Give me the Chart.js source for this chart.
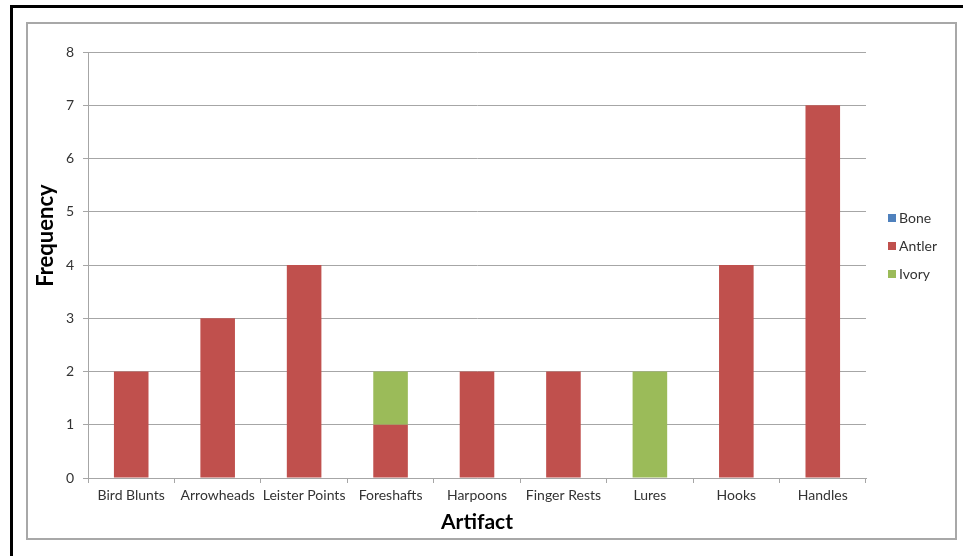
<!DOCTYPE html>
<html>
<head>
<meta charset="utf-8">
<script src="https://cdn.jsdelivr.net/npm/chart.js@4.4.1/dist/chart.umd.min.js"></script>
<style>
  html, body { margin: 0; padding: 0; background: #fff; overflow: hidden; }
  body { width: 963px; height: 556px; position: relative; }
  #outer { position: absolute; left: 10px; top: 5px; width: 1000px; height: 600px; border: 3px solid #000; box-sizing: border-box; }
  #inner { position: absolute; left: 26px; top: 22px; width: 931px; height: 518px; border: 2px solid #a8a8a8; box-sizing: border-box; background: #fff; }
  #wrap { position: absolute; left: 28px; top: 24px; width: 927px; height: 514px; }
</style>
</head>
<body>
<div id="outer"></div>
<div id="inner"></div>
<div id="wrap"><canvas id="chart"></canvas></div>
<script>
// Artifact counts by raw material
const categories = ['Bird Blunts', 'Arrowheads', 'Leister Points', 'Foreshafts', 'Harpoons', 'Finger Rests', 'Lures', 'Hooks', 'Handles'];
const bone   = [0, 0, 0, 0, 0, 0, 0, 0, 0];
const antler = [2, 3, 4, 1, 2, 2, 0, 4, 7];
const ivory  = [0, 0, 0, 1, 0, 0, 2, 0, 0];
const yTicks = [0, 1, 2, 3, 4, 5, 6, 7, 8];
const yTitle = 'Frequency';

const FONT = 'Lato, "Liberation Sans", sans-serif';
const GRID = '#a6a6a6';
const TEXT = '#333333';

// Legend drawn as a simple vertical list to the right of the plot
const sideLegend = {
  id: 'sideLegend',
  afterDraw(chart) {
    const ctx = chart.ctx;
    const x = chart.chartArea.right + 22;
    const y0 = chart.chartArea.top + 166;
    ctx.save();
    ctx.font = '14px ' + FONT;
    ctx.textBaseline = 'middle';
    ctx.textAlign = 'left';
    chart.data.datasets.forEach((ds, i) => {
      const y = y0 + i * 28;
      ctx.fillStyle = ds.backgroundColor;
      ctx.fillRect(x, y - 4, 8, 8);
      ctx.fillStyle = TEXT;
      ctx.fillText(ds.label, x + 11, y);
    });
    ctx.restore();
  }
};

// Vertical axis title, sitting a little above the middle of the plot
const sideTitle = {
  id: 'sideTitle',
  afterDraw(chart) {
    const ctx = chart.ctx;
    const area = chart.chartArea;
    const cy = area.top + (area.bottom - area.top) * 0.431;
    ctx.save();
    ctx.translate(18, cy);
    ctx.rotate(-Math.PI / 2);
    ctx.font = 'bold 22px ' + FONT;
    ctx.fillStyle = '#000';
    ctx.textAlign = 'center';
    ctx.textBaseline = 'middle';
    ctx.fillText(yTitle, 0, 0);
    ctx.restore();
  }
};

new Chart(document.getElementById('chart'), {
  type: 'bar',
  data: {
    labels: categories,
    datasets: [
      { label: 'Bone',   data: bone,   backgroundColor: '#4F81BD' },
      { label: 'Antler', data: antler, backgroundColor: '#C0504D' },
      { label: 'Ivory',  data: ivory,  backgroundColor: '#9BBB59' }
    ]
  },
  options: {
    responsive: true,
    maintainAspectRatio: false,
    animation: false,
    datasets: { bar: { barPercentage: 0.4, categoryPercentage: 1.0, borderWidth: 0 } },
    layout: { padding: { top: 28, right: 89, bottom: 0, left: 0 } },
    plugins: { legend: { display: false }, tooltip: { enabled: false } },
    scales: {
      x: {
        stacked: true,
        afterFit(s) { s.height = 60; },
        grid: { display: true, drawOnChartArea: false, drawTicks: true, tickLength: 5, color: GRID, offset: true },
        border: { color: GRID, width: 1 },
        ticks: { color: TEXT, font: { family: FONT, size: 14 }, padding: 4, maxRotation: 0, autoSkip: false },
        title: { display: true, text: 'Artifact', color: '#000', font: { family: FONT, size: 21, weight: 'bold' }, padding: { top: 0, bottom: 3 } }
      },
      y: {
        stacked: true,
        min: 0,
        max: 8,
        afterFit(s) { s.width = 60; },
        afterBuildTicks(s) { s.ticks = yTicks.map(v => ({ value: v })); },
        grid: { color: GRID, tickLength: 5, drawTicks: true },
        border: { color: GRID, width: 1 },
        ticks: { color: TEXT, font: { family: FONT, size: 14 }, padding: 9 },
        title: { display: false }
      }
    }
  },
  plugins: [sideLegend, sideTitle]
});
</script>
</body>
</html>
